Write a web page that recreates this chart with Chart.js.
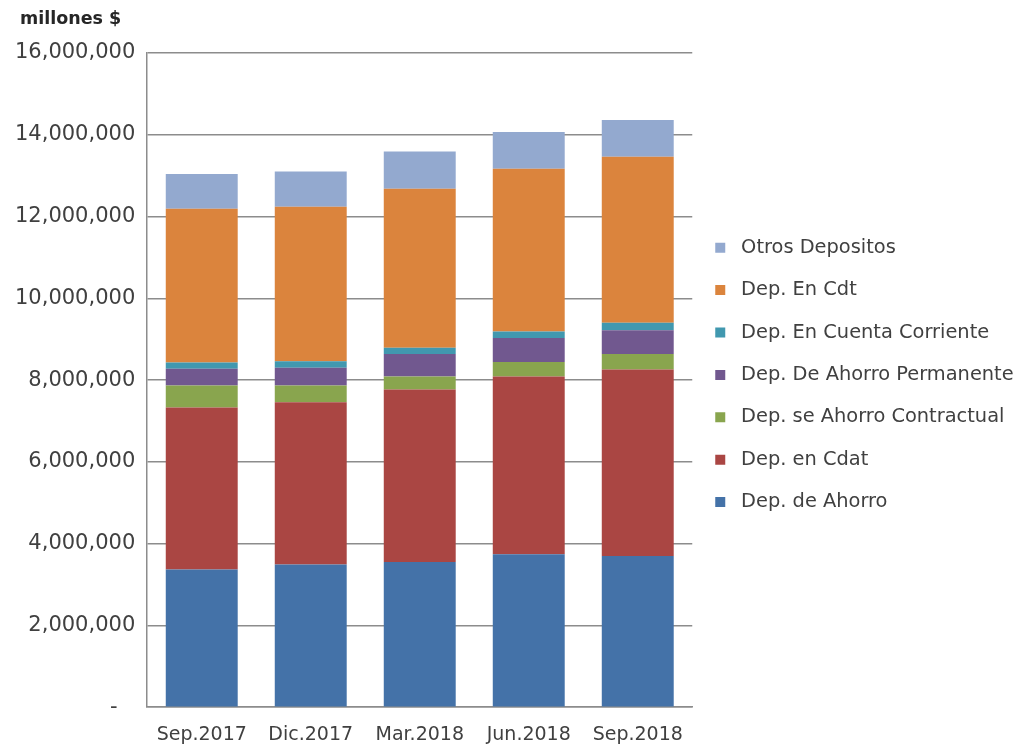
<!DOCTYPE html>
<html>
<head>
<meta charset="utf-8">
<script src="https://cdn.jsdelivr.net/npm/chart.js@4/dist/chart.umd.min.js"></script>
<style>
  html, body { margin: 0; padding: 0; background: #ffffff; }
  #wrap { width: 1019px; height: 750px; position: relative; }
</style>
</head>
<body>
<div id="wrap"><canvas id="c" width="1019" height="750"></canvas></div>
<script>
// ---- data ----
const categories = ['Sep.2017', 'Dic.2017', 'Mar.2018', 'Jun.2018', 'Sep.2018'];
const depAhorro          = [3370000, 3490000, 3550000, 3740000, 3700000];
const depCdat            = [3960000, 3970000, 4220000, 4350000, 4560000];
const depContractual     = [540000, 410000, 320000, 350000, 380000];
const depPermanente      = [410000, 430000, 550000, 590000, 580000];
const depCuentaCorriente = [150000, 160000, 150000, 160000, 180000];
const depCdt             = [3760000, 3780000, 3890000, 3980000, 4060000];
const otrosDepositos     = [850000, 860000, 910000, 900000, 900000];
const seriesLabels = ['Dep. de Ahorro', 'Dep. en Cdat', 'Dep. se Ahorro Contractual',
  'Dep. De Ahorro Permanente', 'Dep. En Cuenta Corriente', 'Dep. En Cdt', 'Otros Depositos'];
const yTitle = 'millones $';

const seriesValues = [depAhorro, depCdat, depContractual, depPermanente, depCuentaCorriente, depCdt, otrosDepositos];
const seriesColors = ['#4472A8', '#AA4643', '#89A54E', '#71588F', '#4198AF', '#DB843D', '#93A9CF'];

const FONT = "'DejaVu Sans', sans-serif";

const titlePlugin = {
  id: 'unitTitle',
  afterDraw(chart) {
    const ctx = chart.ctx;
    ctx.save();
    ctx.font = "bold 17.5px " + FONT;
    ctx.fillStyle = '#262626';
    ctx.textAlign = 'left';
    ctx.textBaseline = 'middle';
    ctx.fillText(yTitle, 20, 19);
    ctx.restore();
  }
};

// let the right-hand legend use the full remaining width of the canvas
const legendWidthPlugin = {
  id: 'legendWidth',
  beforeDraw(chart) {
    const lg = chart.legend;
    if (lg) {
      lg.right = chart.width;
      lg.width = lg.right - lg.left;
    }
  }
};

new Chart(document.getElementById('c'), {
  type: 'bar',
  data: {
    labels: categories,
    datasets: seriesValues.map((vals, i) => ({
      label: seriesLabels[i],
      data: vals,
      backgroundColor: seriesColors[i],
      borderWidth: 0,
      categoryPercentage: 0.66,
      barPercentage: 1.0
    }))
  },
  options: {
    responsive: false,
    animation: false,
    events: [],
    layout: { padding: { top: 53, left: 3, right: 97, bottom: -12 } },
    scales: {
      x: {
        stacked: true,
        grid: { display: false, drawTicks: false },
        border: { display: true, color: '#8c8c8c', width: 1.5 },
        ticks: { color: '#404040', font: { family: FONT, size: 19 }, padding: 16 }
      },
      y: {
        stacked: true,
        min: 0,
        max: 16000000,
        ticks: {
          stepSize: 2000000,
          color: '#404040',
          font: { family: FONT, size: 21 },
          padding: 12,
          callback: (v) => v === 0 ? '-  \u2009' : v.toLocaleString('en-US')
        },
        grid: { color: '#8c8c8c', lineWidth: 1.5, drawTicks: false },
        border: { display: true, color: '#8c8c8c', width: 1.5 }
      }
    },
    plugins: {
      title: { display: false },
      tooltip: { enabled: false },
      legend: {
        position: 'right',
        align: 'start',
        fullSize: false,
        reverse: true,
        title: { display: true, text: '', font: { size: 10 }, padding: { top: 150, bottom: 0 } },
        labels: {
          boxWidth: 10,
          boxHeight: 10,
          padding: 23,
          color: '#404040',
          font: { family: FONT, size: 19.4 },
          generateLabels: (chart) => Chart.defaults.plugins.legend.labels.generateLabels(chart)
            .map(l => Object.assign(l, { text: ' ' + l.text }))
        }
      }
    }
  },
  plugins: [titlePlugin, legendWidthPlugin]
});
</script>
</body>
</html>
